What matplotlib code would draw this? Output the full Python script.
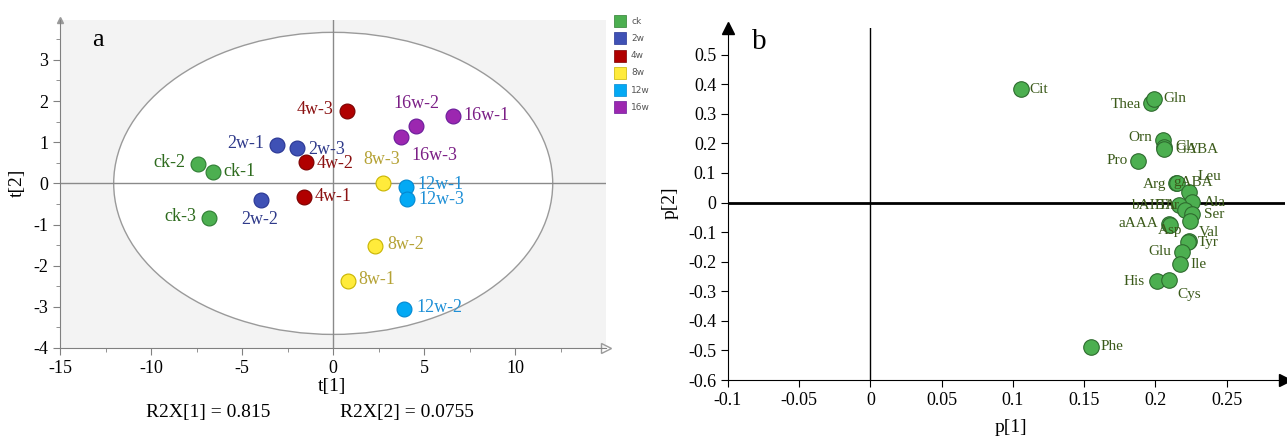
import numpy as np
import matplotlib
matplotlib.use("Agg")
import matplotlib.pyplot as plt
from matplotlib.patches import Ellipse, Rectangle

plt.rcParams['font.family'] = ['Liberation Serif', 'DejaVu Serif']

# ---- data: scores plot (a)
groups = ['ck', '2w', '4w', '8w', '12w', '16w']
group_fill = ['#4CAF50', '#3F51B5', '#B00000', '#FFEB3B', '#03A9F4', '#9C27B0']
group_edge = ['#2E7D32', '#283593', '#7A0000', '#C8B400', '#0288D1', '#6A1B9A']
group_text = ['#2E6B1E', '#2F3A8A', '#8B1212', '#B5A235', '#1E8FD6', '#7B1F86']

sample_names = ['ck-1', 'ck-2', 'ck-3', '2w-1', '2w-2', '2w-3', '4w-1', '4w-2', '4w-3',
                '8w-1', '8w-2', '8w-3', '12w-1', '12w-2', '12w-3', '16w-1', '16w-2', '16w-3']
sample_group = [0, 0, 0, 1, 1, 1, 2, 2, 2, 3, 3, 3, 4, 4, 4, 5, 5, 5]
t1 = [-6.63, -7.42, -6.81, -3.08, -3.98, -1.98, -1.62, -1.51, 0.74,
      0.79, 2.31, 2.72, 3.98, 3.89, 4.04, 6.56, 4.56, 3.75]
t2 = [0.27, 0.48, -0.83, 0.94, -0.40, 0.86, -0.34, 0.53, 1.75,
      -2.36, -1.51, 0.02, -0.10, -3.05, -0.38, 1.63, 1.40, 1.12]
r2x = [0.815, 0.0755]

# ---- data: loadings plot (b)
aa_names = ['Cit', 'Thea', 'Gln', 'Orn', 'Gly', 'GABA', 'Pro', 'Arg', 'gABA', 'Leu',
            'Ala', 'bAIBA', 'Thr', 'Ser', '', 'aAAA', 'Asp', 'Val', 'Tyr', 'Glu',
            'Ile', 'His', 'Cys', 'Phe']
p1 = [0.1055, 0.1970, 0.1990, 0.2054, 0.2063, 0.2060, 0.1880, 0.2147, 0.2155, 0.2234,
      0.2257, 0.2164, 0.2210, 0.2257, 0.2246, 0.2095, 0.2105, 0.2234, 0.2228, 0.2187,
      0.2175, 0.2012, 0.2098, 0.1550]
p2 = [0.383, 0.335, 0.349, 0.213, 0.188, 0.180, 0.142, 0.067, 0.066, 0.035,
      0.001, -0.008, -0.024, -0.040, -0.063, -0.072, -0.076, -0.129, -0.135, -0.166,
      -0.208, -0.266, -0.261, -0.487]

# label offsets in pixels (dx, dy, ha)
sample_off = {
    'ck-1': (11, 1, 'left'), 'ck-2': (-13, 1, 'right'), 'ck-3': (-13, 1, 'right'),
    '2w-1': (-13, 1, 'right'), '2w-2': (-1, -20, 'center'), '2w-3': (11, -2, 'left'),
    '4w-1': (11, 1, 'left'), '4w-2': (11, -2, 'left'), '4w-3': (-13, 2, 'right'),
    '8w-1': (11, 1, 'left'), '8w-2': (12, 1, 'left'), '8w-3': (-1, 23, 'center'),
    '12w-1': (12, 3, 'left'), '12w-2': (12, 1, 'left'), '12w-3': (12, 0, 'left'),
    '16w-1': (11, 1, 'left'), '16w-2': (0, 22, 'center'), '16w-3': (10, -18, 'left'),
}
aa_off = {
    'Cit': (9, 0, 'left'), 'Thea': (-10, -1, 'right'), 'Gln': (9, 1, 'left'),
    'Orn': (-11, 2, 'right'), 'Gly': (11, 0, 'left'), 'GABA': (11, 0, 'left'),
    'Pro': (-10, 0, 'right'), 'Arg': (-10, -2, 'right'), 'gABA': (-4, 0, 'left'),
    'Leu': (9, 16, 'left'), 'Ala': (12, 0, 'left'), 'bAIBA': (-3, -1, 'right'),
    'Thr': (-6, 4, 'right'), 'Ser': (12, 0, 'left'), '': (0, 0, 'left'),
    'aAAA': (-11, 0, 'right'), 'Asp': (0, -5, 'center'), 'Val': (10, 8, 'left'),
    'Tyr': (10, 0, 'left'), 'Glu': (-11, 0, 'right'), 'Ile': (10, 0, 'left'),
    'His': (-12, 0, 'right'), 'Cys': (8, -15, 'left'), 'Phe': (9, 0, 'left'),
}

fig = plt.figure(figsize=(12.87, 4.36), dpi=100)

# ================= panel a =================
ax = fig.add_axes([60.4 / 1287, 88 / 436, 545.6 / 1287, 328 / 436])
ax.set_facecolor('#F3F3F3')
ax.set_xlim(-15, 15)
ax.set_ylim(-4, 3.97)
ax.add_patch(Ellipse((0, 0), 2 * 12.07, 2 * 3.67, fc='white', ec='#9A9A9A', lw=1, zorder=1))
ax.axhline(0, color='#8A8A8A', lw=1, zorder=2)
ax.axvline(0, color='#8A8A8A', lw=1, zorder=2)

for i, name in enumerate(sample_names):
    g = sample_group[i]
    ax.scatter(t1[i], t2[i], s=115, c=group_fill[g], edgecolors=group_edge[g],
               linewidths=0.8, zorder=4)
    dx, dy, ha = sample_off[name]
    ax.annotate(name, (t1[i], t2[i]), xytext=(dx, dy), textcoords='offset pixels',
                ha=ha, va='center', color=group_text[g], fontsize=13, zorder=5)

for s in ['top', 'right']:
    ax.spines[s].set_visible(False)
for s in ['left', 'bottom']:
    ax.spines[s].set_color('#808080')
ax.set_xticks([-15, -10, -5, 0, 5, 10])
ax.set_xticklabels(['-15', '-10', '-5', '0', '5', '10'])
ax.set_yticks([-4, -3, -2, -1, 0, 1, 2, 3])
ax.set_yticklabels(['-4', '-3', '-2', '-1', '0', '1', '2', '3'])
ax.set_xticks(np.arange(-12.5, 15, 5), minor=True)
ax.set_yticks(np.arange(-3.5, 4, 1), minor=True)
ax.tick_params(which='major', length=5, color='#808080', labelsize=13)
ax.tick_params(which='minor', length=3, color='#808080')
ax.plot(1, 0, '>', color='#9A9A9A', ms=7, mfc='none', transform=ax.transAxes, clip_on=False)
ax.plot(0, 1, '^', color='#9A9A9A', ms=5, transform=ax.transAxes, clip_on=False)
ax.text(0.068, 0.94, 'a', transform=ax.transAxes, fontsize=19, va='center', ha='center')

fig.text(332 / 1287, 1 - 387 / 436, 't[1]', fontsize=14, ha='center', va='center')
fig.text(17 / 1287, 1 - 183 / 436, 't[2]', fontsize=14, ha='center', va='center', rotation=90)
fig.text(208 / 1287, 1 - 412 / 436, 'R2X[1] = %g' % r2x[0], fontsize=14, ha='center', va='center')
fig.text(407 / 1287, 1 - 412 / 436, 'R2X[2] = %g' % r2x[1], fontsize=14, ha='center', va='center')

# legend squares
for i, g in enumerate(groups):
    y = 15 + i * 17.3
    fig.patches.append(Rectangle((614 / 1287, 1 - (y + 12) / 436), 12 / 1287, 12 / 436,
                                 transform=fig.transFigure, fc=group_fill[i],
                                 ec=group_edge[i], lw=0.5))
    fig.text(631 / 1287, 1 - (y + 6) / 436, g, fontsize=6.5, family='DejaVu Sans',
             color='#555555', va='center', ha='left')

# ================= panel b =================
bx = fig.add_axes([728 / 1287, 56 / 436, 557 / 1287, 352 / 436])
bx.set_xlim(-0.1, 0.291)
bx.set_ylim(-0.6, 0.59)
bx.axvline(0, color='black', lw=1, zorder=1)
bx.axhline(0, color='black', lw=2, zorder=1)
bx.scatter(p1, p2, s=125, c='#4CAF50', edgecolors='#2E6B2E', linewidths=0.8, zorder=3)
for i, name in enumerate(aa_names):
    if not name:
        continue
    dx, dy, ha = aa_off[name]
    bx.annotate(name, (p1[i], p2[i]), xytext=(dx, dy), textcoords='offset pixels',
                ha=ha, va='center', color='#3B5A1A', fontsize=11, zorder=5)

for s in ['top', 'right']:
    bx.spines[s].set_visible(False)
bx.set_xticks([-0.1, -0.05, 0, 0.05, 0.1, 0.15, 0.2, 0.25])
bx.set_xticklabels(['-0.1', '-0.05', '0', '0.05', '0.1', '0.15', '0.2', '0.25'])
yt = [-0.6, -0.5, -0.4, -0.3, -0.2, -0.1, 0, 0.1, 0.2, 0.3, 0.4, 0.5]
bx.set_yticks(yt)
bx.set_yticklabels(['%g' % v for v in yt])
bx.tick_params(length=5, labelsize=13)
bx.plot(1, 0, '>', color='black', ms=8, transform=bx.transAxes, clip_on=False)
bx.plot(0, 1, '^', color='black', ms=8, transform=bx.transAxes, clip_on=False)
bx.text(0.057, 0.96, 'b', transform=bx.transAxes, fontsize=21, va='center', ha='center')
fig.text(1011 / 1287, 1 - 427 / 436, 'p[1]', fontsize=14, ha='center', va='center')
fig.text(670 / 1287, 1 - 203 / 436, 'p[2]', fontsize=14, ha='center', va='center', rotation=90)

fig.savefig('out.png', dpi=100)
